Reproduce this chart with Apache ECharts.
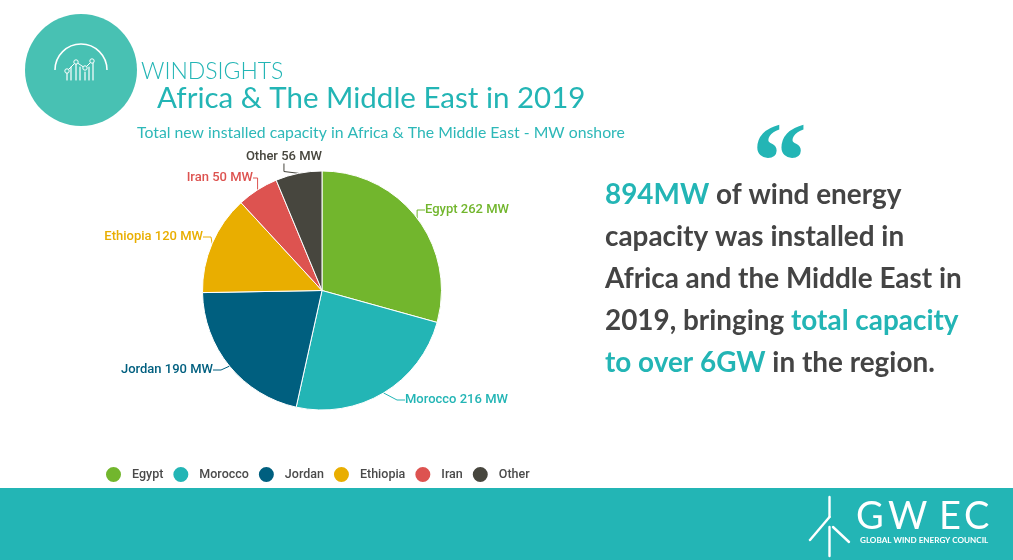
<!DOCTYPE html>
<html>
<head>
<meta charset="utf-8">
<style>
html, body { margin: 0; padding: 0; background: #fff; }
#chart { width: 1013px; height: 560px; }
</style>
<script src="https://cdn.jsdelivr.net/npm/echarts@6/dist/echarts.min.js"></script>
</head>
<body>
<div id="chart"></div>
<script>
const categories = ['Egypt', 'Morocco', 'Jordan', 'Ethiopia', 'Iran', 'Other']
const capacityMw = [262, 216, 190, 120, 50, 56]
const colors = ['#72b62d', '#23b5b5', '#005f7f', '#e9ae00', '#dd5350', '#47463e']

const teal = '#23b5b5'
const white = '#fff'

const chart = echarts.init(document.getElementById('chart'), null, { renderer: 'canvas' })

// where the labels sit in the original, same order as categories
const labelSpots = [
    { x: 425, y: 210, align: 'left' },
    { x: 405, y: 400, align: 'left' },
    { x: 213, y: 370, align: 'right' },
    { x: 203, y: 237, align: 'right' },
    { x: 253, y: 178, align: 'right' },
    { x: 322, y: 157, align: 'right' }
]

const line = (x1, y1, x2, y2, width) => ({
    type: 'line',
    shape: { x1, y1, x2, y2 },
    style: { stroke: white, lineWidth: width, lineCap: 'round' }
})
const bar = (x, top) => line(x, top, x, 80, 1.2)
const dot = (cx, cy) => ({
    type: 'circle',
    shape: { cx, cy, r: 2.2 },
    style: { fill: '#48c1b3', stroke: white, lineWidth: 1 }
})
const label = (text, x, y, font, fill) => ({
    type: 'text',
    x, y,
    style: { text, font, fill, textVerticalAlign: 'middle' }
})

chart.setOption({
    animation: false,
    title: [
        { text: 'Africa & The Middle East in 2019', left: 152, top: 78,
          textStyle: { fontFamily: 'Lato', fontSize: 29.5, fontWeight: 400, color: teal } },
        { text: 'Total new installed capacity in Africa & The Middle East - MW onshore', left: 132, top: 120,
          textStyle: { fontFamily: 'Lato', fontSize: 15.8, fontWeight: 400, color: '#2db8b8' } }
    ],
    color: colors,
    legend: {
        left: 99, top: 460,
        itemWidth: 17, itemHeight: 17, itemGap: 8,
        icon: 'circle',
        data: categories,
        textStyle: { fontFamily: 'Roboto', fontSize: 12.5, fontWeight: 500, color: '#4a4a4a', padding: [0, 0, 0, 5] }
    },
    series: [{
        type: 'pie',
        center: [322, 290.5],
        radius: [0, 119.5],
        startAngle: 90,
        itemStyle: { borderColor: white, borderWidth: 1 },
        label: {
            formatter: '{b} {c} MW',
            fontFamily: 'Roboto', fontSize: 13, fontWeight: 500,
            color: 'inherit'
        },
        labelLine: { show: true, length: 8, length2: 8, lineStyle: { width: 1 } },
        labelLayout: params => ({ ...labelSpots[params.dataIndex], verticalAlign: 'middle' }),
        data: categories.map((name, i) => ({ name, value: capacityMw[i] }))
    }],
    graphic: [
        { type: 'rect', shape: { x: 0, y: 488, width: 1013, height: 72 }, style: { fill: teal } },
        { type: 'circle', shape: { cx: 81, cy: 70, r: 56 }, style: { fill: '#48c1b3' } },
        { type: 'arc', shape: { cx: 81, cy: 70, r: 26, startAngle: Math.PI, endAngle: 0 },
          style: { stroke: white, lineWidth: 1.5, fill: 'none' } },
        bar(67, 71), bar(71, 67), bar(76, 64), bar(80, 67), bar(85, 72), bar(89, 67), bar(93, 62),
        { type: 'polyline', shape: { points: [[67, 71], [76, 62], [85, 68], [92, 61]] },
          style: { stroke: white, lineWidth: 1, fill: 'none' } },
        dot(67, 71), dot(76, 62), dot(85, 68), dot(92, 61),
        label('WINDSIGHTS', 141, 72, '300 23px Lato', teal),
        {
            type: 'text', x: 752, y: 115,
            style: { text: '\u201C', font: '700 110px "Liberation Serif"', fill: teal }
        },
        {
            type: 'text', x: 605, y: 174,
            style: {
                text: '{h|894MW} of wind energy\ncapacity was installed in\nAfrica and the Middle East in\n2019, bringing {h|total capacity}\n{h|to over 6GW} in the region.',
                font: '700 27.9px Lato',
                fill: '#444',
                lineHeight: 42,
                rich: { h: { font: '700 27.9px Lato', fill: teal, lineHeight: 42 } }
            }
        },
        line(829.5, 497, 829.5, 517, 2.4),
        line(829.5, 517, 810, 540, 2.4),
        line(833, 527, 849, 542, 2.4),
        line(829.5, 527, 829.5, 556, 2.4),
        label('G', 856, 517, '400 38px Lato', white),
        label('W', 888, 517, '400 38px Lato', white),
        label('E', 939, 517, '400 38px Lato', white),
        label('C', 964, 517, '400 38px Lato', white),
        label('GLOBAL WIND ENERGY COUNCIL', 860, 540, '700 8.1px Lato', white)
    ]
})
</script>
</body>
</html>
